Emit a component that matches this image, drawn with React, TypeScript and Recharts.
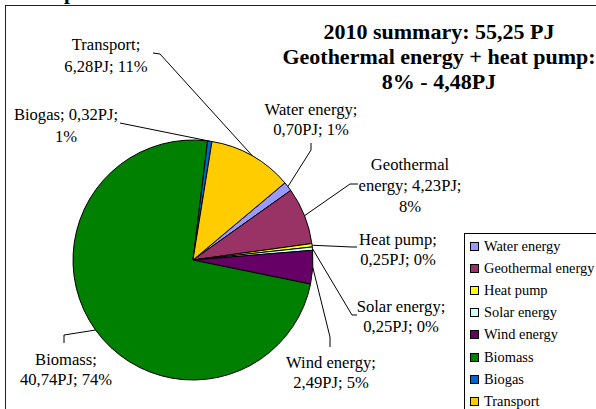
import React from "react";
import { PieChart, Pie, Cell, Legend } from "recharts";

const CATEGORIES = [
  "Water energy",
  "Geothermal energy",
  "Heat pump",
  "Solar energy",
  "Wind energy",
  "Biomass",
  "Biogas",
  "Transport",
];
const VALUES_PJ = [0.7, 4.23, 0.25, 0.25, 2.49, 40.74, 0.32, 6.28];
const COLORS = [
  "#9999FF",
  "#993366",
  "#FFFF00",
  "#CCFFFF",
  "#660066",
  "#008000",
  "#0066CC",
  "#FFCC00",
];
const TITLE_LINES = [
  "2010 summary: 55,25 PJ",
  "Geothermal energy + heat pump:",
  "8% - 4,48PJ",
];
// how many words go on each line of a slice label
const LABEL_WORDS_PER_LINE = [
  [2, 2],
  [1, 2, 1],
  [2, 2],
  [2, 2],
  [2, 2],
  [1, 2],
  [2, 1],
  [1, 2],
];

// label text anchor (tx, first baseline ty), leader elbow (bx, by) and end (ex, ey)
const LABEL_LAYOUT = [
  { tx: 311, ty: 115, lh: 20, bx: 311, by: 150, ex: 311, ey: 143 },
  { tx: 410, ty: 170, lh: 21, bx: 350, by: 184, ex: 358, ey: 184 },
  { tx: 398, ty: 245, lh: 20, bx: 352, by: 247, ex: 357, ey: 247 },
  { tx: 401, ty: 312, lh: 20, bx: 352, by: 315, ex: 357, ey: 315 },
  { tx: 331, ty: 368, lh: 20, bx: 330, by: 337, ex: 330, ey: 347 },
  { tx: 66, ty: 365, lh: 20, bx: 64, by: 335, ex: 64, ey: 343 },
  { tx: 66, ty: 120, lh: 22, bx: 120, by: 123, ex: 120, ey: 123 },
  { tx: 106, ty: 50, lh: 22, bx: 160, by: 54, ex: 153, ey: 53 },
];

const FONT = "Liberation Serif, DejaVu Serif, Times New Roman, Times, serif";
const TOTAL = VALUES_PJ.reduce((a, b) => a + b, 0);
const data = CATEGORIES.map((name, i) => ({ name, value: VALUES_PJ[i] }));

const fmt = (v: number) => v.toFixed(2).replace(".", ",");

function labelLines(i: number): string[] {
  const pct = Math.round((VALUES_PJ[i] / TOTAL) * 100);
  const words = `${CATEGORIES[i]}; ${fmt(VALUES_PJ[i])}PJ; ${pct}%`.split(" ");
  const out: string[] = [];
  let k = 0;
  for (const n of LABEL_WORDS_PER_LINE[i]) {
    out.push(words.slice(k, k + n).join(" "));
    k += n;
  }
  return out;
}

const renderLabel = (props: any) => {
  const { cx, cy, midAngle, outerRadius, index } = props;
  const L = LABEL_LAYOUT[index];
  const rad = Math.PI / 180;
  const sx = cx + outerRadius * Math.cos(-midAngle * rad);
  const sy = cy + outerRadius * Math.sin(-midAngle * rad);
  const lines = labelLines(index);
  return (
    <g key={`lbl-${index}`}>
      <polyline
        points={`${sx},${sy} ${L.bx},${L.by} ${L.ex},${L.ey}`}
        fill="none"
        stroke="#000"
        strokeWidth={1}
      />
      <text
        x={L.tx}
        y={L.ty}
        textAnchor="middle"
        fill="#000"
        style={{ fontFamily: FONT, fontSize: 16.6 }}
      >
        {lines.map((ln, i) => (
          <tspan key={i} x={L.tx} dy={i === 0 ? 0 : L.lh}>
            {ln}
          </tspan>
        ))}
      </text>
    </g>
  );
};

const renderLegend = (props: any) => {
  const items = [...((props.payload || []) as any[])].sort(
    (a, b) => CATEGORIES.indexOf(a.value) - CATEGORIES.indexOf(b.value)
  );
  return (
    <div
      style={{
        width: 150,
        height: 190,
        background: "#fff",
        borderLeft: "1px solid #000",
        borderTop: "1px solid #000",
        paddingTop: 1,
        boxSizing: "border-box",
        fontFamily: FONT,
        fontSize: 14.4,
      }}
    >
      {items.map((it, i) => (
        <div
          key={i}
          style={{
            height: 22.2,
            display: "flex",
            alignItems: "center",
            paddingLeft: 5,
            whiteSpace: "nowrap",
          }}
        >
          <span
            style={{
              display: "inline-block",
              width: 7,
              height: 7,
              background: COLORS[CATEGORIES.indexOf(it.value)],
              border: "1px solid #000",
              marginRight: 5,
            }}
          />
          <span style={{ color: "#000" }}>{it.value}</span>
        </div>
      ))}
    </div>
  );
};

export default function App() {
  return (
    <div
      style={{
        position: "absolute",
        left: 0,
        top: 0,
        width: 596,
        height: 409,
        overflow: "hidden",
        background: "#fff",
        fontFamily: FONT,
      }}
    >
      <svg
        width={596}
        height={409}
        style={{ position: "absolute", left: 0, top: 0 }}
      >
        <text x={64} y={-1} style={{ fontFamily: FONT, fontSize: 21, fontWeight: "bold" }}>
          p
        </text>
        <rect
          x={5.5}
          y={5.5}
          width={700}
          height={500}
          fill="#fff"
          stroke="#222"
          strokeWidth={1}
        />
        <text
          x={439}
          y={39}
          textAnchor="middle"
          style={{ fontFamily: FONT, fontSize: 22, fontWeight: "bold" }}
        >
          {TITLE_LINES.map((t, i) => (
            <tspan key={i} x={439} dy={i === 0 ? 0 : 25}>
              {t}
            </tspan>
          ))}
        </text>
      </svg>
      <div style={{ position: "absolute", left: 0, top: 0 }}>
        <PieChart width={596} height={409}>
          <Pie
            data={data}
            dataKey="value"
            nameKey="name"
            cx={188}
            cy={255}
            outerRadius={120}
            startAngle={40}
            endAngle={-320}
            stroke="#000"
            strokeWidth={1}
            label={renderLabel}
            labelLine={false}
            isAnimationActive={false}
          >
            {data.map((_, i) => (
              <Cell key={i} fill={COLORS[i]} />
            ))}
          </Pie>
          <Legend
            content={renderLegend}
            wrapperStyle={{ position: "absolute", left: 464, top: 233, width: 150 }}
          />
        </PieChart>
      </div>
    </div>
  );
}
